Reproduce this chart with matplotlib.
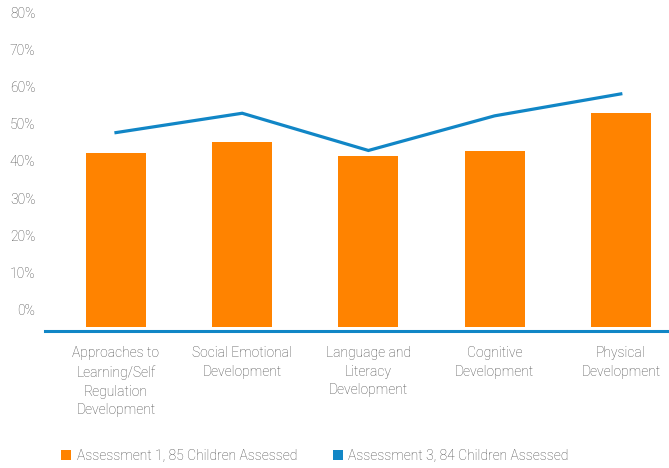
import numpy as np
import matplotlib.pyplot as plt
from matplotlib.patches import Patch

plt.rcParams['font.family'] = ['Roboto', 'DejaVu Sans']

categories = ['Approaches to\nLearning/Self\nRegulation\nDevelopment',
              'Social Emotional\nDevelopment',
              'Language and\nLiteracy\nDevelopment',
              'Cognitive\nDevelopment',
              'Physical\nDevelopment']
assessment1 = [0.420, 0.451, 0.413, 0.427, 0.529]
assessment3 = [0.476, 0.528, 0.428, 0.521, 0.580]
yticks = [0, 0.1, 0.2, 0.3, 0.4, 0.5, 0.6, 0.7, 0.8]
series_names = ['Assessment 1, 85 Children Assessed', 'Assessment 3, 84 Children Assessed']

orange = '#FF8300'
blue = '#1186C6'
grey = '#4A4A4A'
bar_base = -0.046

fig = plt.figure(figsize=(6.69, 4.68), dpi=100)
ax = fig.add_axes([45 / 669, 1 - 331 / 468, 624 / 669, 319 / 468])

x = np.arange(len(categories))
ax.bar(x, np.array(assessment1) - bar_base, bottom=bar_base, width=0.475, color=orange, zorder=2)
ax.plot(x, assessment3, color=blue, lw=2.3, zorder=3, solid_joinstyle='miter')

ax.set_xlim(-0.5626, 4.382)
ax.set_ylim(-0.057, 0.80)
ax.set_yticks(yticks)
ax.set_yticklabels(['{:.0f}%'.format(v * 100) for v in yticks])
ax.set_xticks(x)
ax.set_xticklabels(categories, linespacing=1.45, va='top')

for s in ['top', 'right', 'left']:
    ax.spines[s].set_visible(False)
ax.spines['bottom'].set_color(blue)
ax.spines['bottom'].set_linewidth(2.2)
ax.spines['bottom'].set_zorder(4)
ax.tick_params(axis='both', length=0, labelsize=10, labelcolor=grey)
ax.tick_params(axis='x', pad=10.5)
ax.tick_params(axis='y', pad=7)
for lab in ax.get_xticklabels() + ax.get_yticklabels():
    lab.set_fontweight('light')

handles = [Patch(facecolor=orange, label=series_names[0]),
           Patch(facecolor=blue, label=series_names[1])]
leg = fig.legend(handles=handles, loc='center', bbox_to_anchor=(315 / 669, 1 - 456 / 468),
                 ncol=2, frameon=False, handlelength=0.7, handleheight=0.7,
                 handletextpad=0.4, columnspacing=2.6, fontsize=10)
for t in leg.get_texts():
    t.set_color(grey)
    t.set_fontweight('light')

fig.savefig('out.png', dpi=100)
